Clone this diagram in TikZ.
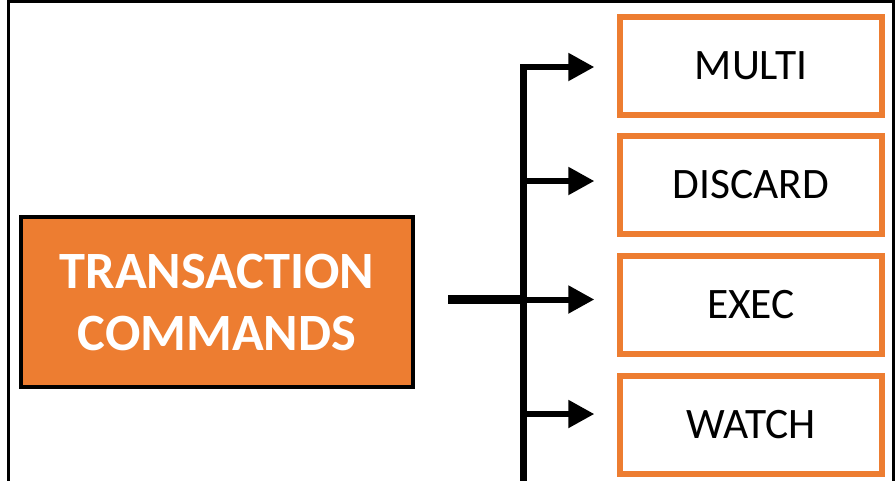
\documentclass[tikz,border=0pt]{standalone}
\usepackage{fontspec}
\setmainfont{Carlito}
\usepackage{tikz}
\usetikzlibrary{arrows.meta, positioning}
\definecolor{boxorange}{HTML}{ED7D31}

\begin{document}
\begin{tikzpicture}[x=0.75pt, y=-0.75pt,
  cmdbox/.style={draw=black, line width=3pt, fill=boxorange, text=white,
    minimum width=294pt, minimum height=127.5pt, align=center,
    font=\fontsize{39.3pt}{46.5pt}\selectfont\bfseries},
  opbox/.style={draw=boxorange, line width=4.5pt, fill=white,
    minimum width=196.5pt, minimum height=73.9pt,
    font=\fontsize{32.6pt}{38pt}\selectfont},
  trunk/.style={line width=4.8pt, line join=miter},
  branch/.style={line width=4.5pt, -{Triangle[length=19.5pt, width=20pt]}, shorten >=17pt},
  feed/.style={line width=6.75pt, shorten <=24.75pt}]

  \useasboundingbox (0,0) rectangle (896,480);
  \clip (0,0) rectangle (896,480);

  % outer frame
  \draw[line width=2.25pt] (8.5,1) rectangle (893,520);

  % left box
  \node[cmdbox] (cmd) at (217,302) {TRANSACTION\\COMMANDS};

  % command boxes
  \node[opbox] (multi)   at (751,66)  {MULTI};
  \node[opbox] (discard) at (751,185) {DISCARD};
  \node[opbox] (exec)    at (751,305) {EXEC};
  \node[opbox] (watch)   at (751,425) {WATCH};

  % points on the trunk
  \coordinate (b1) at (523.5,67);
  \coordinate (b2) at (523.5,181);
  \coordinate (b3) at (523.5,299.5);
  \coordinate (b4) at (523.5,414);
  \coordinate (bend) at (523.5,500);

  % trunk and branches
  \draw[trunk] (bend) -- (b1);
  \draw[branch] ([xshift=-2.4pt]b1) -- (b1 -| multi.west);
  \draw[branch] (b2) -- (b2 -| discard.west);
  \draw[branch] (b3) -- (b3 -| exec.west);
  \draw[branch] (b4) -- (b4 -| watch.west);

  % feed line
  \draw[feed] (cmd.east |- b3) -- (b3);
\end{tikzpicture}
\end{document}
